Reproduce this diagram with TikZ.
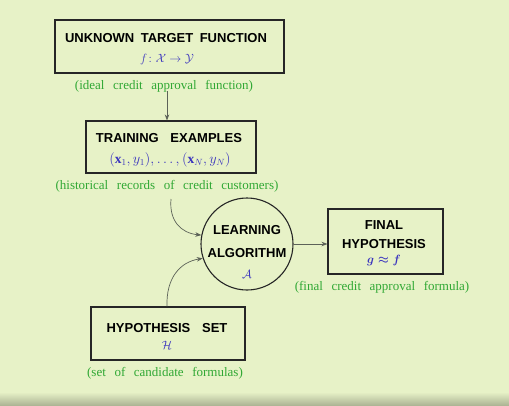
\documentclass[tikz,border=0pt]{standalone}
\usepackage{amsmath}
\usepackage{fontspec}
\setmainfont{Liberation Serif}
\setsansfont{Liberation Sans}
\usetikzlibrary{arrows.meta,positioning}
\definecolor{slidebg}{RGB}{231,242,199}
\definecolor{notegreen}{RGB}{48,168,52}
\definecolor{mathblue}{RGB}{58,52,190}
\definecolor{edgegray}{RGB}{92,98,88}
\newcommand\ttlfont{\sffamily\bfseries\fontsize{13}{15}\selectfont\spaceskip 0.9em\relax}
\newcommand\lblfont{\fontsize{13}{15}\selectfont\spaceskip 0.66em\relax}

\begin{document}
\begin{tikzpicture}[x=1pt, y=-1pt, sharp corners,
     blk/.style={draw=black!85, line width=1.1pt, inner sep=0pt},
     ttl/.style={font=\ttlfont, inner sep=0pt},
     mth/.style={text=mathblue, font=\fontsize{12.5}{14}\selectfont, inner sep=0pt},
     lbl/.style={text=notegreen, font=\lblfont, inner sep=0pt},
     arr/.style={draw=edgegray, line width=0.7pt, -{Stealth[length=6pt, width=4.5pt]}}]
   \fill[slidebg] (0,0) rectangle (509,405);
   \shade[top color=slidebg, bottom color=black!25!slidebg] (0,392) rectangle (509,405);
   \useasboundingbox (0,0) rectangle (509,405);

   \node[blk, minimum width=229pt, minimum height=53pt] (box1) at (169.5,46.5) {};
   \node[ttl] (t1) at (166,38) {\spaceskip 0.5em\relax UNKNOWN TARGET FUNCTION};
   \node[mth] (m1) at (167,59) {$f\colon \mathcal{X}\to\mathcal{Y}$};
   \node[lbl] (l1) at (164,86) {(ideal credit approval function)};

   \node[blk, minimum width=170pt, minimum height=52pt] (box2) at (171,147) {};
   \node[ttl] (t2) at (169,138) {TRAINING EXAMPLES};
   \node[mth, font=\fontsize{13.5}{15}\selectfont] (m2) at (170,160) {$(\mathbf{x}_1,y_1),\dots,(\mathbf{x}_N,y_N)$};
   \node[lbl] (l2) at (167,186) {(historical records of credit customers)};

   \node[draw=black!85, line width=1.1pt, circle, minimum size=92pt, inner sep=0pt] (alg) at (247,244) {};
   \node[ttl] (t3) at (247,230) {LEARNING};
   \node[ttl] (t4) at (247,253) {ALGORITHM};
   \node[mth] (m3) at (247,274) {$\mathcal{A}$};

   \node[blk, minimum width=115pt, minimum height=65pt] (fin) at (385.5,241.5) {};
   \node[ttl] (t5) at (384,225) {FINAL};
   \node[ttl] (t6) at (384,244) {HYPOTHESIS};
   \node[mth] (m4) at (384,260.5) {$\boldsymbol{g\approx f}$};
   \node[lbl] (l3) at (382,287) {(final credit approval formula)};

   \node[blk, minimum width=154pt, minimum height=53pt] (hyp) at (168,333.5) {};
   \node[ttl] (t7) at (167,328) {HYPOTHESIS SET};
   \node[mth] (m5) at (167,345) {$\mathcal{H}$};
   \node[lbl] (l4) at (165,373) {(set of candidate formulas)};

   \coordinate (a1) at (167,91);
   \coordinate (a2) at (171,199);
   \draw[arr] (a1) -- (a1 |- box2.north);
   \draw[arr] (a2) .. controls (169,221) and (181,233) .. (alg.169);
   \draw[arr] (hyp.north -| a1) .. controls (166,278) and (180,262) .. (alg.198);
   \draw[arr] (alg.east) -- (alg.east -| fin.west);
  \end{tikzpicture}
\end{document}
